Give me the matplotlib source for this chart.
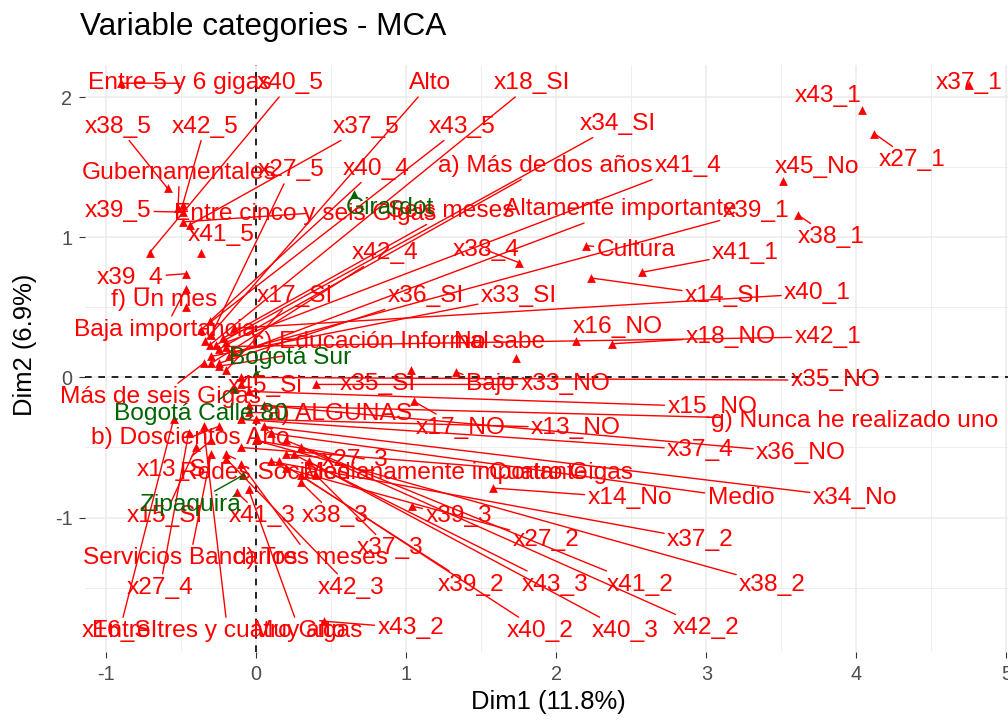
import matplotlib
matplotlib.use('Agg')
import matplotlib.pyplot as plt
from matplotlib import font_manager

# narrow font if available, otherwise plain Liberation Sans a bit smaller
installed = {f.name for f in font_manager.fontManager.ttflist}
if 'Liberation Sans Narrow' in installed:
    FONT, K = 'Liberation Sans Narrow', 1.0
else:
    FONT, K = 'Liberation Sans', 0.84
plt.rcParams['font.family'] = [FONT, 'DejaVu Sans']
plt.rcParams['axes.unicode_minus'] = False

# active categories: label, Dim1, Dim2 and where ggrepel put the label
act_names = ["Entre 5 y 6 gigas", "x40_5", "Alto", "x18_SI", "x43_1", "x37_1",
             "x38_5", "x42_5", "x37_5", "x43_5", "x34_SI", "Gubernamentales",
             "x27_5", "x40_4", "a) Más de dos años", "x41_4", "x45_No", "x27_1",
             "x39_5", "Entre cinco y seis Gigas", "Seis meses", "Altamente importante",
             "x39_1", "x38_1", "x41_5", "x42_4", "x38_4", "Cultura", "x41_1",
             "x39_4", "f) Un mes", "x17_SI", "x36_SI", "x33_SI", "x14_SI", "x40_1",
             "Baja importancia", "x16_NO", "c) Educación Informal", "No sabe",
             "x18_NO", "x42_1", "x35_NO", "x45_Si", "x35_SI", "Bajo", "x33_NO",
             "Más de seis Gigas", "x15_NO", "g) Nunca he realizado uno", "a) ALGUNAS",
             "x17_NO", "x13_NO", "b) Doscientos Año", "x37_4", "x36_NO", "x27_3",
             "Medianamente importante", "Cuatro Gigas", "x13_SI", "Redes Sociales",
             "x14_No", "Medio", "x34_No", "x15_SI", "x41_3", "x38_3", "x39_3",
             "x37_2", "x27_2", "x37_3", "Servicios Bancarios", "d) Tres meses",
             "x27_4", "x42_3", "x38_2", "x39_2", "x43_3", "x41_2", "x16_SI",
             "Entre tres y cuatro Gigas", "Muy alto", "x43_2", "x40_2", "x40_3", "x42_2"]
act_x = [-0.90, -0.71, -0.34, -0.31, 4.04, 4.75,
         -0.59, -0.49, -0.44, -0.37, -0.27, -0.52,
         -0.30, -0.31, -0.25, -0.20, 3.51, 4.12,
         -0.49, -0.49, -0.22, -0.18,
         -0.15, 3.61, -0.37, -0.30, 1.75, 2.20, 2.57,
         -0.47, -0.47, -0.20, -0.25, -0.30, 2.23, -0.15,
         -0.47, 2.13, -0.25, 1.73,
         2.37, -0.20, -0.10, -0.10, 1.03, 1.33, 0.40,
         -0.35, -0.05, -0.05, -0.05,
         1.05, 0.00, -0.25, -0.10, 0.05, 0.20,
         0.00, -0.10, -0.30, -0.20,
         1.58, 0.10, 0.05, -0.40, -0.13, 0.30, 1.04,
         0.10, 0.20, 0.40, -0.30, -0.10,
         -0.45, -0.20, 0.00, 0.15, 0.25, 0.20, -0.55,
         -0.35, -0.05, 0.45, 0.30, 0.35, 0.30]
act_y = [2.10, 0.89, 0.26, 0.23, 1.91, 2.09,
         1.35, 1.23, 1.09, 0.34, 0.23, 1.21,
         0.30, 0.40, 0.20, 0.25, 1.40, 1.74,
         1.18, 1.11, 0.28, 0.15,
         0.18, 1.16, 0.89, 0.10, 0.82, 0.94, 0.75,
         0.74, 0.50, 0.05, 0.10, 0.15, 0.71, 0.35,
         0.63, 0.26, 0.08, 0.14,
         0.24, 0.22, 0.00, -0.05, 0.05, 0.04, -0.05,
         0.10, -0.10, -0.20, -0.25,
         -0.17, -0.30, -0.35, -0.30, -0.20, -0.55,
         -0.45, -0.50, -0.45, -0.55,
         -0.79, -0.40, -0.35, -0.50, -0.82, -0.75, -0.92,
         -0.60, -0.65, -0.70, -0.55, -0.62,
         -0.40, -0.58, -0.45, -0.60, -0.55, -0.45, -0.30,
         -0.35, -0.80, -1.74, -0.70, -0.60, -0.50]
act_lx = [-0.51, 0.23, 1.16, 1.84, 3.81, 4.75,
          -0.92, -0.34, 0.73, 1.37, 2.41, -0.51,
          0.23, 0.80, 1.93, 2.88, 3.74, 4.37,
          -0.92, 0.33, 1.30, 2.43,
          3.33, 3.83, -0.23, 0.86, 1.53, 2.53, 3.26,
          -0.84, -0.61, 0.26, 1.13, 1.75, 3.11, 3.74,
          -0.61, 2.41, 0.76, 1.62,
          3.16, 3.81, 3.86, 0.06, 0.81, 1.56, 2.06,
          -0.64, 3.04, 3.99, 0.56,
          1.36, 2.13, -0.44, 2.96, 3.63, 0.66,
          1.26, 2.03, -0.54, 0.06,
          2.49, 3.23, 3.99, -0.61, 0.04, 0.53, 1.35,
          2.96, 1.93, 0.89, -0.44, 0.36,
          -0.64, 0.63, 3.44, 1.43, 1.99, 2.56, -0.91,
          -0.19, 0.29, 1.03, 1.89, 2.46, 3.00]
act_ly = [2.10, 2.10, 2.10, 2.10, 2.01, 2.10,
          1.79, 1.79, 1.79, 1.79, 1.81, 1.46,
          1.48, 1.49, 1.51, 1.51, 1.50, 1.55,
          1.19, 1.17, 1.19, 1.20,
          1.19, 1.00, 1.02, 0.89, 0.91, 0.91, 0.89,
          0.71, 0.55, 0.58, 0.58, 0.58, 0.58, 0.60,
          0.34, 0.36, 0.25, 0.25,
          0.29, 0.29, -0.02, -0.06, -0.05, -0.05, -0.05,
          -0.14, -0.21, -0.31, -0.26,
          -0.36, -0.36, -0.43, -0.52, -0.54, -0.59,
          -0.68, -0.68, -0.66, -0.68,
          -0.86, -0.86, -0.86, -0.99, -0.99, -0.99, -0.99,
          -1.16, -1.16, -1.22, -1.29, -1.29,
          -1.50, -1.50, -1.48, -1.48, -1.48, -1.48, -1.81,
          -1.81, -1.81, -1.79, -1.81, -1.81, -1.79]

# supplementary categories (green)
sup_names = ["Girardot", "Bogotá Sur", "Bogotá Calle 80", "Zipaquirá"]
sup_x = [0.65, 0.00, -0.15, -0.09]
sup_y = [1.31, 0.03, -0.08, -0.70]
sup_lx = [0.89, 0.23, -0.37, -0.44]
sup_ly = [1.21, 0.14, -0.26, -0.91]

RED = '#FF0000'
GREEN = '#006400'

fig = plt.figure(figsize=(10.08, 7.27), dpi=100)
ax = fig.add_axes([85 / 1008, 75 / 727, 923 / 1008, 587 / 727])

ax.set_xticks(range(-1, 6))
ax.set_yticks([-1, 0, 1, 2])
ax.set_xticks([-0.5, 0.5, 1.5, 2.5, 3.5, 4.5], minor=True)
ax.set_yticks([-1.5, -0.5, 0.5, 1.5], minor=True)
# limits after the ticks, set_ticks would otherwise widen the view
ax.set_xlim(-1.14, 5.01)
ax.set_ylim(-1.96, 2.23)
ax.grid(which='major', color='#EBEBEB', lw=1.1)
ax.grid(which='minor', color='#EBEBEB', lw=0.6)
ax.set_axisbelow(True)
for s in ax.spines.values():
    s.set_visible(False)
ax.tick_params(which='major', length=4, width=0.8, color='#333333',
               labelsize=17 * K, labelcolor='#4D4D4D', pad=5)
ax.tick_params(which='minor', length=0)

ax.axhline(0, color='black', lw=1.2, ls=(0, (4, 4)), zorder=1)
ax.axvline(0, color='black', lw=1.2, ls=(0, (4, 4)), zorder=1)

ax.scatter(act_x, act_y, marker='^', s=40, color=RED, lw=0, zorder=3)
ax.scatter(sup_x, sup_y, marker='^', s=40, color=GREEN, lw=0, zorder=3)

fig.canvas.draw()
to_px = ax.transData.transform


def put_labels(names, xs, ys, lxs, lys, col):
    for name, x, y, lx, ly in zip(names, xs, ys, lxs, lys):
        p = to_px((x, y))
        q = to_px((lx, ly))
        far = ((p[0] - q[0]) ** 2 + (p[1] - q[1]) ** 2) ** 0.5 > 28
        arrow = dict(arrowstyle='-', color=col, lw=1.0, shrinkA=0, shrinkB=0) if far else None
        ax.annotate(name, xy=(x, y), xytext=(lx, ly), textcoords='data',
                    ha='center', va='center', fontsize=21 * K, color=col,
                    arrowprops=arrow, zorder=4)


put_labels(act_names, act_x, act_y, act_lx, act_ly, RED)
put_labels(sup_names, sup_x, sup_y, sup_lx, sup_ly, GREEN)

fig.text(80 / 1008, 1 - 27 / 727, 'Variable categories - MCA', fontsize=27 * K,
         ha='left', va='center', color='black')
fig.text(548 / 1008, 1 - 702 / 727, 'Dim1 (11.8%)', fontsize=22 * K,
         ha='center', va='center', color='black')
fig.text(25 / 1008, 1 - 345 / 727, 'Dim2 (6.9%)', fontsize=22 * K,
         ha='center', va='center', rotation=90, color='black')

fig.savefig('out.png', dpi=100)
